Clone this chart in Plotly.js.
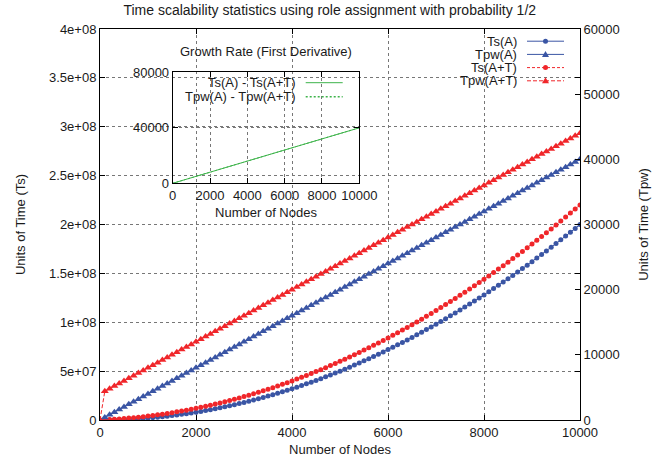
<!DOCTYPE html>
<html>
<head>
<meta charset="utf-8">
<script src="https://cdn.plot.ly/plotly-3.0.1.min.js"></script>
<style>html,body{margin:0;padding:0;background:#fff;}#chart{width:653px;height:464px;}</style>
</head>
<body>
<div id="chart"></div>
<script>
// ---- data ----
const nodes = [0,100,200,300,400,500,600,700,800,900,1000,1100,1200,1300,1400,1500,1600,1700,1800,1900,2000,2100,2200,2300,2400,2500,2600,2700,2800,2900,3000,3100,3200,3300,3400,3500,3600,3700,3800,3900,4000,4100,4200,4300,4400,4500,4600,4700,4800,4900,5000,5100,5200,5300,5400,5500,5600,5700,5800,5900,6000,6100,6200,6300,6400,6500,6600,6700,6800,6900,7000,7100,7200,7300,7400,7500,7600,7700,7800,7900,8000,8100,8200,8300,8400,8500,8600,8700,8800,8900,9000,9100,9200,9300,9400,9500,9600,9700,9800,9900,10000];
// Ts series, in millions of time units (left axis)
const tsA_M = [0,0.02,0.08,0.18,0.32,0.5,0.72,0.98,1.28,1.62,2,2.42,2.88,3.38,3.92,4.5,5.12,5.78,6.48,7.22,8,8.82,9.68,10.58,11.52,12.5,13.52,14.58,15.68,16.82,18,19.22,20.48,21.78,23.12,24.5,25.92,27.38,28.88,30.42,32,33.62,35.28,36.98,38.72,40.5,42.32,44.18,46.08,48.02,50,52.02,54.08,56.18,58.32,60.5,62.72,64.98,67.28,69.62,72,74.42,76.88,79.38,81.92,84.5,87.12,89.78,92.48,95.22,98,100.82,103.68,106.58,109.52,112.5,115.52,118.58,121.68,124.82,128,131.22,134.48,137.78,141.12,144.5,147.92,151.38,154.88,158.42,162,165.62,169.28,172.98,176.72,180.5,184.32,188.18,192.08,196.02,200];
const tsAT_M = [0,0.22,0.48,0.78,1.12,1.5,1.92,2.38,2.88,3.42,4,4.62,5.28,5.98,6.72,7.5,8.32,9.18,10.08,11.02,12,13.02,14.08,15.18,16.32,17.5,18.72,19.98,21.28,22.62,24,25.42,26.88,28.38,29.92,31.5,33.12,34.78,36.48,38.22,40,41.82,43.68,45.58,47.52,49.5,51.52,53.58,55.68,57.82,60,62.22,64.48,66.78,69.12,71.5,73.92,76.38,78.88,81.42,84,86.62,89.28,91.98,94.72,97.5,100.32,103.18,106.08,109.02,112,115.02,118.08,121.18,124.32,127.5,130.72,133.98,137.28,140.62,144,147.42,150.88,154.38,157.92,161.5,165.12,168.78,172.48,176.22,180,183.82,187.68,191.58,195.52,199.5,203.52,207.58,211.68,215.82,220];
// Tpw series (right axis)
const tpwA = [0,400,800,1200,1600,2000,2400,2800,3200,3600,4000,4400,4800,5200,5600,6000,6400,6800,7200,7600,8000,8400,8800,9200,9600,10000,10400,10800,11200,11600,12000,12400,12800,13200,13600,14000,14400,14800,15200,15600,16000,16400,16800,17200,17600,18000,18400,18800,19200,19600,20000,20400,20800,21200,21600,22000,22400,22800,23200,23600,24000,24400,24800,25200,25600,26000,26400,26800,27200,27600,28000,28400,28800,29200,29600,30000,30400,30800,31200,31600,32000,32400,32800,33200,33600,34000,34400,34800,35200,35600,36000,36400,36800,37200,37600,38000,38400,38800,39200,39600,40000];
const tpwAT = [0,4400,4800,5200,5600,6000,6400,6800,7200,7600,8000,8400,8800,9200,9600,10000,10400,10800,11200,11600,12000,12400,12800,13200,13600,14000,14400,14800,15200,15600,16000,16400,16800,17200,17600,18000,18400,18800,19200,19600,20000,20400,20800,21200,21600,22000,22400,22800,23200,23600,24000,24400,24800,25200,25600,26000,26400,26800,27200,27600,28000,28400,28800,29200,29600,30000,30400,30800,31200,31600,32000,32400,32800,33200,33600,34000,34400,34800,35200,35600,36000,36400,36800,37200,37600,38000,38400,38800,39200,39600,40000,40400,40800,41200,41600,42000,42400,42800,43200,43600,44000];
// inset: growth rate
const insetNodes = [0,2000,4000,6000,8000,10000];
const growthTs = [0,8000,16000,24000,32000,40000];
const growthTpw = [0,8000,16000,24000,32000,40000];

const seriesNames = ['Ts(A)','Tpw(A)','Ts(A+T)','Tpw(A+T)'];
const insetNames = ['Ts(A) - Ts(A+T)','Tpw(A) - Tpw(A+T)'];
const leftTickVals = [0,5e7,1e8,1.5e8,2e8,2.5e8,3e8,3.5e8,4e8];
const leftTickText = ['0','5e+07','1e+08','1.5e+08','2e+08','2.5e+08','3e+08','3.5e+08','4e+08'];
const rightTickVals = [0,10000,20000,30000,40000,50000,60000];
const rightTickText = ['0','10000','20000','30000','40000','50000','60000'];
const xTickVals = [0,2000,4000,6000,8000,10000];
const xTickText = ['0','2000','4000','6000','8000','10000'];
const insetYTicks = [0,40000,80000];
const insetYText = ['0','40000','80000'];

// ---- styling ----
const BLUE = '#3a55a4', RED = '#f0262a', GREEN = '#3db34a';
const FONT = 'Liberation Sans, Arial, sans-serif';
const TXT = '#1a1a1a';
const FS = 13;
const M = {l:100, r:73, t:29, b:44};
const PW = 653 - M.l - M.r, PH = 464 - M.t - M.b;
const xp = px => (px - M.l) / PW;
const yp = py => (M.t + PH - py) / PH;

const traces = [
  {x: nodes, y: tsA_M.map(v => v*1e6), name: seriesNames[0], type:'scatter', mode:'lines+markers',
   line:{color:BLUE, width:1}, marker:{symbol:'circle', size:5, color:BLUE}, xaxis:'x', yaxis:'y', showlegend:false},
  {x: nodes, y: tpwA, name: seriesNames[1], type:'scatter', mode:'lines+markers',
   line:{color:BLUE, width:1}, marker:{symbol:'triangle-up', size:7, color:BLUE}, xaxis:'x', yaxis:'y2', showlegend:false},
  {x: nodes, y: tsAT_M.map(v => v*1e6), name: seriesNames[2], type:'scatter', mode:'lines+markers',
   line:{color:RED, width:1, dash:'3px,2px'}, marker:{symbol:'circle', size:5, color:RED}, xaxis:'x', yaxis:'y', showlegend:false},
  {x: nodes, y: tpwAT, name: seriesNames[3], type:'scatter', mode:'lines+markers',
   line:{color:RED, width:1, dash:'4px,2px'}, marker:{symbol:'triangle-up', size:7, color:RED}, xaxis:'x', yaxis:'y2', showlegend:false},
  {x: insetNodes, y: growthTpw, name: insetNames[1], type:'scatter', mode:'lines',
   line:{color:GREEN, width:1, dash:'2px,2px'}, xaxis:'x2', yaxis:'y3', showlegend:false},
  {x: insetNodes, y: growthTs, name: insetNames[0], type:'scatter', mode:'lines',
   line:{color:GREEN, width:1}, xaxis:'x2', yaxis:'y3', showlegend:false}
];

const axisCommon = {
  showline:true, linecolor:'#000', linewidth:1, ticks:'inside', ticklen:5, tickcolor:'#000',
  tickfont:{family:FONT, size:FS, color:TXT}, zeroline:false,
  gridcolor:'#777', griddash:'dot', gridwidth:1
};

// legend (gnuplot-style: text right, sample on the right)
const legRowsMain = [41.2, 54.4, 67.6, 80.8];
const legStyles = [
  {color:BLUE, dash:'solid', sym:'circle'},
  {color:BLUE, dash:'solid', sym:'tri'},
  {color:RED, dash:'3px,2px', sym:'circle'},
  {color:RED, dash:'4px,2px', sym:'tri'}
];
const shapes = [
  {type:'rect', xref:'paper', yref:'paper', x0:xp(455), x1:xp(578), y0:yp(88), y1:1, fillcolor:'#fff', line:{width:0}, layer:'between'}
];
const annotations = [];
seriesNames.forEach((n, i) => {
  const yy = yp(legRowsMain[i]);
  annotations.push({text:n, xref:'paper', yref:'paper', x:xp(518), y:yy, xanchor:'right', yanchor:'middle',
    showarrow:false, font:{family:FONT, size:FS, color:TXT}, borderpad:0});
  shapes.push({type:'line', xref:'paper', yref:'paper', x0:xp(527), x1:xp(564), y0:yy, y1:yy,
    line:{color:legStyles[i].color, width:1, dash:legStyles[i].dash}});
  if (legStyles[i].sym === 'circle') {
    shapes.push({type:'circle', xref:'paper', yref:'paper', xsizemode:'pixel', ysizemode:'pixel',
      xanchor:xp(545.5), yanchor:yy, x0:-2.5, x1:2.5, y0:-2.5, y1:2.5,
      fillcolor:legStyles[i].color, line:{width:0}});
  } else {
    shapes.push({type:'path', xref:'paper', yref:'paper', xsizemode:'pixel', ysizemode:'pixel',
      xanchor:xp(545.5), yanchor:yy, path:'M-3.5,-2.5 L3.5,-2.5 L0,3.5 Z',
      fillcolor:legStyles[i].color, line:{width:0}});
  }
});
// inset legend
const legRowsInset = [82.7, 96.7];
insetNames.forEach((n, i) => {
  const yy = yp(legRowsInset[i]);
  annotations.push({text:n, xref:'paper', yref:'paper', x:xp(297), y:yy, xanchor:'right', yanchor:'middle',
    showarrow:false, font:{family:FONT, size:FS, color:TXT}, borderpad:0});
  shapes.push({type:'line', xref:'paper', yref:'paper', x0:xp(305.7), x1:xp(342.7), y0:yy, y1:yy,
    line:{color:GREEN, width: i === 0 ? 1 : 1.5, dash: i === 0 ? 'solid' : '2px,2px'}});
});
// inset title
annotations.push({text:'Growth Rate (First Derivative)', xref:'paper', yref:'paper', x:xp(266), y:yp(51.5),
  xanchor:'center', yanchor:'middle', showarrow:false, font:{family:FONT, size:FS, color:TXT}});

const layout = {
  width:653, height:464, margin:M, paper_bgcolor:'#fff', plot_bgcolor:'rgba(0,0,0,0)',
  font:{family:FONT, size:FS, color:TXT},
  title:{text:'Time scalability statistics using role assignment with probability 1/2',
    x:0.505, xref:'container', y:1-10/464, yref:'container', yanchor:'middle', xanchor:'center',
    font:{family:FONT, size:14, color:TXT}},
  xaxis: Object.assign({}, axisCommon, {range:[0,10000], tickvals:xTickVals, ticktext:xTickText, mirror:'ticks', showgrid:true,
    title:{text:'Number of Nodes', font:{family:FONT, size:FS, color:TXT}, standoff:6}}),
  yaxis: Object.assign({}, axisCommon, {range:[0,4e8], tickvals:leftTickVals, ticktext:leftTickText, mirror:'ticks', showgrid:true,
    title:{text:'Units of Time (Ts)', font:{family:FONT, size:FS, color:TXT}, standoff:20}}),
  yaxis2: Object.assign({}, axisCommon, {range:[0,60000], tickvals:rightTickVals, ticktext:rightTickText, overlaying:'y', side:'right', showgrid:false,
    title:{text:'Units of Time (Tpw)', font:{family:FONT, size:FS, color:TXT}, standoff:20}}),
  xaxis2: Object.assign({}, axisCommon, {domain:[xp(172.7), xp(359.3)], anchor:'y3', range:[0,10000], tickvals:xTickVals, ticktext:xTickText,
    mirror:'ticks', showgrid:true,
    title:{text:'Number of Nodes', font:{family:FONT, size:FS, color:TXT}, standoff:5}}),
  yaxis3: Object.assign({}, axisCommon, {domain:[yp(183.3), yp(72.3)], anchor:'x2', range:[0,80000], tickvals:insetYTicks, ticktext:insetYText,
    mirror:'ticks', showgrid:true}),
  shapes: shapes,
  annotations: annotations,
  showlegend:false
};

Plotly.newPlot('chart', traces, layout, {displayModeBar:false, staticPlot:true});
</script>
</body>
</html>
